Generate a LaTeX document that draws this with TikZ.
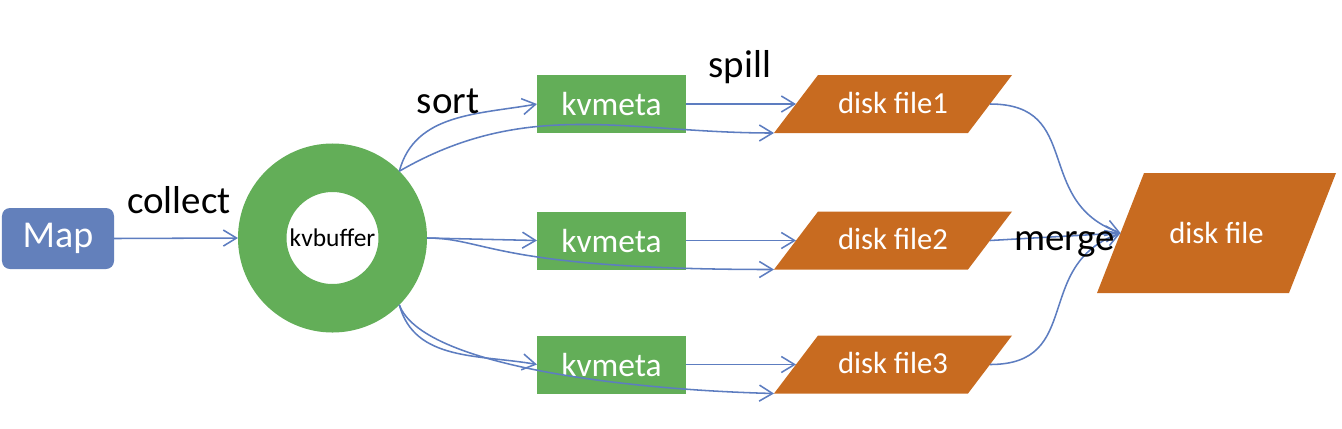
\documentclass[tikz,border=0pt]{standalone}
\usepackage{fontspec}
\setmainfont{Carlito}
\usetikzlibrary{shapes.geometric,arrows.meta}
\definecolor{mapblue}{RGB}{99,128,187}
\definecolor{linkblue}{RGB}{93,125,192}
\definecolor{bufgreen}{RGB}{99,174,88}
\definecolor{diskorange}{RGB}{200,107,32}
\begin{document}
\begin{tikzpicture}[
    metabox/.style={fill=bufgreen, text=white, minimum width=3.725cm, minimum height=1.45cm, inner sep=0pt, outer sep=0pt, font=\fontsize{23.8}{28}\selectfont},
    diskbox/.style={trapezium, trapezium left angle=52.8, trapezium right angle=127.2, trapezium stretches body=true, fill=diskorange, text=white, minimum width=5.95cm, minimum height=0pt, text height=0.55cm, text depth=0.1cm, inner xsep=0pt, inner ysep=0.4cm, outer sep=0pt, font=\fontsize{21.8}{26}\selectfont},
    lbl/.style={anchor=base, font=\fontsize{27.7}{32}\selectfont},
    flow/.style={draw=linkblue, line width=1.1pt, -{Straight Barb[length=0.33cm,width=0.4cm]}}]
\useasboundingbox (0,0) rectangle (33.55,-10.7);

        \node[fill=mapblue, rounded corners=0.2cm, text=white, minimum width=2.8cm, minimum height=1.525cm, inner sep=0pt, outer sep=0pt, font=\fontsize{27}{32}\selectfont] (map) at (1.45,-5.9625) {Map};
        \node[circle, draw=bufgreen, line width=1.2125cm, minimum size=3.5125cm, inner sep=0pt, outer sep=0.60625cm, font=\fontsize{18.1}{22}\selectfont] (buf) at (8.3125,-5.95) {kvbuffer};

        \node[metabox] (meta1) at (15.2875,-2.6) {kvmeta};
        \node[metabox] (meta2) at (15.2875,-6.0125) {kvmeta};
        \node[metabox] (meta3) at (15.2875,-9.1125) {kvmeta};

        \node[diskbox] (disk1) at (22.325,-2.6) {disk file1};
        \node[diskbox] (disk2) at (22.325,-6.0125) {disk file2};
        \node[diskbox] (disk3) at (22.325,-9.1125) {disk file3};
        \node[diskbox, trapezium left angle=68.6, trapezium right angle=111.4, minimum width=5.975cm, text height=0.6cm, inner ysep=1.15cm] (merged) at (30.4125,-5.825) {disk file};

                \draw[flow] (map.east) -- (buf.west);
                \draw[flow] (buf.45) to[out=75,in=190] (meta1.west);
                \draw[flow] (buf.45) to[out=30,in=180] (disk1.bottom left corner);
                \draw[flow] (buf.east) -- (meta2.west);
                \draw[flow] (buf.east) .. controls +(1.5,0) and +(-7,0) .. (disk2.bottom left corner);
                \draw[flow] (buf.-45) to[out=-75,in=170] (meta3.west);
                \draw[flow] (buf.-45) .. controls +(0.55,-1.5) and +(-3.85,0.1) .. (disk3.bottom left corner);
        \foreach \i in {1,2,3}
                \draw[flow] (meta\i.east) -- (disk\i.left side);
                \draw[flow] (disk1.right side) to[out=0,in=160,looseness=1.3] (merged.left side);
                \draw[flow] (disk2.right side) -- (merged.left side);
                \draw[flow] (disk3.right side) to[out=0,in=200,looseness=1.3] (merged.left side);

        \node[lbl] (collect) at (4.475,-5.325) {collect};
        \node[lbl] (sort) at (11.2,-2.825) {sort};
        \node[lbl] (spill) at (18.5,-1.925) {spill};
        \node[lbl] (merge) at (26.6125,-6.25) {merge};
\end{tikzpicture}
\end{document}
